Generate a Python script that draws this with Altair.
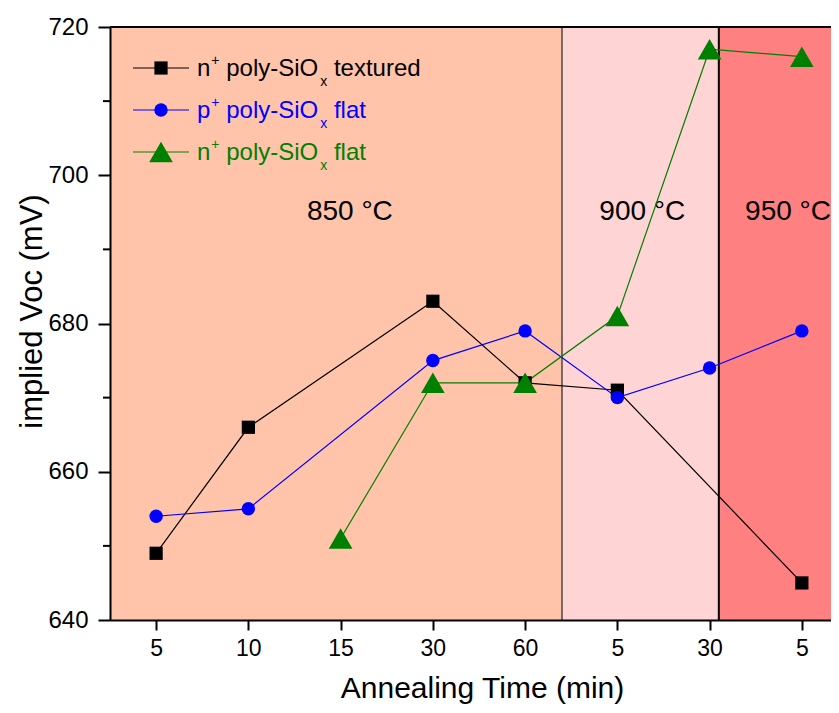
import json
import altair as alt
import pandas as pd

# ---- data ----
positions = list(range(8))
tick_labels = ["5", "10", "15", "30", "60", "5", "30", "5"]
series_names = ["n⁺ poly-SiOₓ textured", "p⁺ poly-SiOₓ flat", "n⁺ poly-SiOₓ flat"]
# legend pieces: (main, superscript, main, subscript, main)
legend_pieces = [["n", "+", " poly-SiO", "x", " textured"],
                 ["p", "+", " poly-SiO", "x", " flat"],
                 ["n", "+", " poly-SiO", "x", " flat"]]
textured_n = [649, 666, None, 683, 672, 671, None, 645]
flat_p = [654, 655, None, 675, 679, 670, 674, 679]
flat_n = [None, None, 651, 672, 672, 681, 717, 716]
series_values = [textured_n, flat_p, flat_n]
series_colors = ["#000000", "#0000FF", "#008000"]
series_shapes = ["square", "circle", "triangle-up"]
series_sizes = [175, 180, 560]

region_start = [-0.5, 4.4, 6.1]
region_end = [4.4, 6.1, 7.316]
region_colors = ["#FFC4AA", "#FFD4D4", "#FF8080"]
region_labels = ["850 °C", "900 °C", "950 °C"]
region_label_x = [2.1, 5.27, 6.85]
region_label_y = [695, 695, 695]
divider_x = [4.4, 6.1]
divider_w = [1, 2]

y_ticks = [640, 660, 680, 700, 720]
y_minor = [650, 670, 690, 710]

FONT = "Arial"
W, H = 721, 593

# Arial advance widths (em) used to lay out the legend pieces
ARIAL = {"n": .556, "p": .556, "+": .584, " ": .278, "o": .556, "l": .222, "y": .5, "-": .333,
         "S": .667, "i": .222, "O": .778, "x": .5, "t": .278, "e": .556, "u": .556, "r": .333,
         "d": .556, "f": .278, "a": .556}


def text_width(s, size):
    return sum(ARIAL.get(ch, .556) for ch in s) * size


xscale = alt.Scale(domain=[-0.5, 7.316], nice=False, zero=False)
yscale = alt.Scale(domain=[640, 720], nice=False, zero=False)

regions = pd.DataFrame({"x0": region_start, "x1": region_end, "c": region_colors,
                        "y0": [640] * 3, "y1": [720] * 3})
bg = alt.Chart(regions).mark_rect().encode(
    x=alt.X("x0:Q", scale=xscale,
            axis=alt.Axis(values=positions, labelExpr=f"{json.dumps(tick_labels)}[datum.value]",
                          title="Annealing Time (min)", grid=False, tickSize=10, tickWidth=2,
                          domainWidth=2, domainColor="black", tickColor="black",
                          labelFontSize=23, labelPadding=7, labelColor="black",
                          titleFontSize=30, titleFontWeight="normal", titleColor="black",
                          titleX=372, titleY=77, titleBaseline="alphabetic", zindex=1)),
    x2="x1:Q",
    y=alt.Y("y0:Q", scale=yscale,
            axis=alt.Axis(values=y_ticks, title="implied Voc (mV)", grid=False, tickSize=12,
                          tickWidth=2, domainWidth=2, domainColor="black", tickColor="black",
                          labelFontSize=24, labelPadding=10, labelColor="black",
                          titleFontSize=31, titleFontWeight="normal", titleColor="black",
                          titleX=-78, titleY=284, titleBaseline="middle", zindex=1)),
    y2="y1:Q",
    color=alt.Color("c:N", scale=None),
)

dividers = pd.DataFrame({"x": divider_x, "w": divider_w})
div = alt.Chart(dividers).mark_rule(color="black").encode(
    x=alt.X("x:Q", scale=xscale),
    y=alt.value(0), y2=alt.value(H),
    strokeWidth=alt.StrokeWidth("w:Q", scale=None),
)

top = alt.Chart(pd.DataFrame({"y": [720]})).mark_rule(color="black", strokeWidth=2).encode(
    y=alt.Y("y:Q", scale=yscale), x=alt.value(0), x2=alt.value(W))

minor = alt.Chart(pd.DataFrame({"y": y_minor})).mark_rule(color="black", strokeWidth=2).encode(
    y=alt.Y("y:Q", scale=yscale), x=alt.value(-7), x2=alt.value(0))

ann = pd.DataFrame({"x": region_label_x, "y": region_label_y, "t": region_labels})
ann_text = alt.Chart(ann).mark_text(font=FONT, fontSize=28, color="black",
                                    baseline="middle", align="center").encode(
    x=alt.X("x:Q", scale=xscale), y=alt.Y("y:Q", scale=yscale), text="t:N")

series_layers = []
for name, vals, col, shp, sz in zip(series_names, series_values, series_colors,
                                    series_shapes, series_sizes):
    d = pd.DataFrame({"pos": [p for p, v in zip(positions, vals) if v is not None],
                      "voc": [v for v in vals if v is not None]})
    d["series"] = name
    series_layers.append(alt.Chart(d).mark_line(strokeWidth=1.2, color=col).encode(
        x=alt.X("pos:Q", scale=xscale), y=alt.Y("voc:Q", scale=yscale), order="pos:Q"))
for name, vals, col, shp, sz in zip(series_names, series_values, series_colors,
                                    series_shapes, series_sizes):
    d = pd.DataFrame({"pos": [p for p, v in zip(positions, vals) if v is not None],
                      "voc": [v for v in vals if v is not None]})
    series_layers.append(alt.Chart(d).mark_point(filled=True, opacity=1, color=col,
                                                 shape=shp, size=sz).encode(
        x=alt.X("pos:Q", scale=xscale), y=alt.Y("voc:Q", scale=yscale)))

# ---- legend (drawn inside the plot, top-left) ----
legend_layers = []
row_y = [41, 83, 125]
MAIN, SMALL = 24, 14
for i, name in enumerate(series_names):
    one = pd.DataFrame({"t": [name]})
    legend_layers.append(alt.Chart(one).mark_rule(color=series_colors[i], strokeWidth=1.2).encode(
        x=alt.value(23), x2=alt.value(79), y=alt.value(row_y[i])))
    legend_layers.append(alt.Chart(one).mark_point(filled=True, opacity=1, color=series_colors[i],
                                                   shape=series_shapes[i], size=series_sizes[i]).encode(
        x=alt.value(51), y=alt.value(row_y[i])))
    xpos = 87.0
    base = row_y[i] + 8
    for k, piece in enumerate(legend_pieces[i]):
        if k in (0, 2, 4):
            size, yb, gap = MAIN, base, 0
        elif k == 1:
            size, yb, gap = SMALL, base - 11, 1
        else:
            size, yb, gap = SMALL, base + 10, 2
        lead = len(piece) - len(piece.lstrip(" "))
        xstart = xpos + gap + text_width(" " * lead, size)
        legend_layers.append(
            alt.Chart(pd.DataFrame({"t": [piece.strip()]})).mark_text(
                font=FONT, fontSize=size, color=series_colors[i], align="left",
                baseline="alphabetic").encode(
                x=alt.value(round(xstart, 1)), y=alt.value(yb), text="t:N"))
        xpos += gap + text_width(piece, size)

chart = alt.layer(bg, div, top, minor, ann_text, *series_layers, *legend_layers).properties(
    width=W, height=H,
    autosize=alt.AutoSizeParams(type="none"),
    padding={"left": 102, "top": 19, "right": 0, "bottom": 85},
).configure_view(stroke=None).configure_axis(labelFont=FONT, titleFont=FONT).configure_text(font=FONT)

chart.save("out.html", embed_options={"renderer": "svg", "actions": False})
